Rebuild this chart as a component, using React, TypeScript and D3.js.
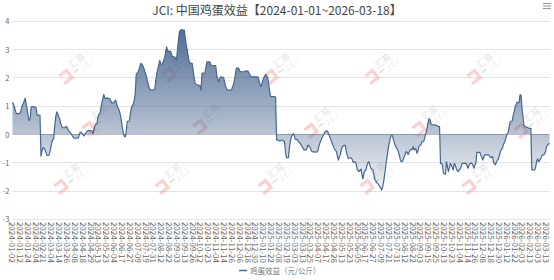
import React from 'react';
import * as d3 from 'd3';

const TITLE = 'JCI: 中国鸡蛋效益【2024-01-01~2026-03-18】';
const SERIES_NAME = '鸡蛋效益（元/公斤）';
const Y_TICKS = [-3, -2, -1, 0, 1, 2, 3, 4];
const LABEL_INTERVAL = 8;

const X_LABELS = [
  '2024-01-02', '2024-01-12', '2024-01-24', '2024-02-04', '2024-02-21', '2024-03-04', '2024-03-14', '2024-03-26',
  '2024-04-08', '2024-04-18', '2024-04-29', '2024-05-13', '2024-05-23', '2024-06-04', '2024-06-17', '2024-06-27',
  '2024-07-09', '2024-07-19', '2024-07-31', '2024-08-12', '2024-08-22', '2024-09-03', '2024-09-13', '2024-09-26',
  '2024-10-12', '2024-10-23', '2024-11-04', '2024-11-14', '2024-11-26', '2024-12-06', '2024-12-18', '2024-12-30',
  '2025-01-10', '2025-01-22', '2025-02-08', '2025-02-19', '2025-03-03', '2025-03-13', '2025-03-25', '2025-04-07',
  '2025-04-17', '2025-04-28', '2025-05-13', '2025-05-23', '2025-06-05', '2025-06-17', '2025-06-27', '2025-07-09',
  '2025-07-21', '2025-07-31', '2025-08-12', '2025-08-22', '2025-09-03', '2025-09-15', '2025-09-25', '2025-10-13',
  '2025-10-23', '2025-11-04', '2025-11-14', '2025-11-26', '2025-12-08', '2025-12-18', '2025-12-30', '2026-01-12',
  '2026-01-22', '2026-02-03', '2026-02-13', '2026-03-03', '2026-03-13',
];

const VALUES_2024A = [
  1.12, 1.05, 0.95, 0.82, 0.72, 0.72, 0.72, 0.72, 0.75, 0.88,
  1.02, 1.08, 1.18, 1.26, 1.05, 0.85, 0.62, 0.47, 0.55, 0.95,
  0.97, 0.97, 0.96, 0.95, 0.93, 0.67, 0.67, 0.67, 0.66, -0.78,
  -0.6, -0.48, -0.5, -0.55, -0.65, -0.75, -0.76, -0.75, -0.65, -0.5,
  -0.3, -0.2, -0.18, 0.3, 0.6, 0.78, 0.72, 0.62, 0.55, 0.38,
  0.28, 0.22, 0.22, 0.22, 0.25, 0.27, 0.2, 0.12, 0.08, 0.05,
  0.0, -0.07, -0.12, -0.15, -0.15, -0.15, -0.15, -0.14, -0.02, 0.07,
  0.05, 0.02, -0.03, -0.07, 0.0, 0.05, 0.1, 0.12, 0.12, 0.12,
  0.12, 0.1, 0.0, 0.18, 0.3, 0.36, 0.38, 0.6, 0.7, 0.72,
  0.9, 1.1, 1.25, 1.4, 1.27, 1.26, 1.27, 1.27, 1.25, 1.25,
  1.18, 1.1, 1.1, 1.1, 1.15, 1.2, 1.08, 0.95, 0.88, 0.8,
  0.65, 0.45, 0.2, 0.02, -0.08, -0.1, 0.15, 0.45, 0.45, 0.45,
  0.7, 0.9, 1.0, 1.05, 1.2, 1.4, 2.1, 2.15, 2.2, 2.3,
];
const VALUES_2024B = [
  2.42, 2.5, 2.45, 2.4, 2.3, 2.18, 2.08, 1.95, 1.8, 1.65,
  1.58, 1.55, 1.55, 1.55, 1.56, 1.6, 1.9, 2.14, 2.3, 2.45,
  2.6, 2.5, 2.45, 2.5, 2.6, 2.7, 2.9, 3.08, 2.93, 2.93,
  2.92, 2.93, 2.82, 2.73, 2.73, 2.73, 2.68, 2.6, 2.96, 3.3,
  3.6, 3.67, 3.68, 3.68, 3.67, 3.67, 3.4, 3.15, 2.96, 2.75,
  2.55, 2.52, 2.5, 2.5, 2.25, 2.0, 1.79, 1.76, 1.74, 1.73,
  1.72, 1.7, 1.55, 2.14, 2.15, 2.15, 2.15, 2.35, 2.55, 2.55,
  2.55, 2.55, 2.43, 2.43, 2.42, 2.42, 2.42, 2.42, 2.08, 1.95,
  1.85, 1.95, 2.02, 2.0, 2.0, 2.0, 1.85, 1.7, 1.6, 1.55,
  1.55, 1.55, 1.55, 1.55, 1.65, 1.73, 1.9, 2.1, 2.32, 2.33,
  2.34, 2.27, 2.2, 2.2, 2.2, 2.2, 2.2, 2.22, 2.23, 2.22,
  2.22, 2.15, 2.08, 2.02, 2.02, 2.02, 2.02, 2.02, 2.02, 2.02,
  2.02, 1.9, 1.78, 1.67, 1.78, 1.9, 2.0, 2.05, 2.1, 2.05,
  2.0, 1.75, 1.5, 1.32, 1.32, 1.32, 1.32, 1.32, 1.3, -0.21,
];
const VALUES_2025A = [
  -0.21, -0.22, -0.25, -0.24, -0.22, -0.22, -0.25, -0.27, -0.6, -0.84,
  -0.84, -0.84, -0.5, -0.27, -0.1, -0.04, 0.02, -0.05, -0.18, -0.19,
  -0.2, -0.25, -0.3, -0.33, -0.38, -0.45, -0.5, -0.56, -0.56, -0.56,
  -0.5, -0.39, -0.42, -0.48, -0.55, -0.62, -0.63, -0.63, -0.63, -0.64,
  -0.64, -0.6, -0.45, -0.33, -0.25, -0.15, -0.09, -0.02, 0.06, 0.1,
  0.1, 0.1, 0.0, -0.09, -0.18, -0.27, -0.35, -0.45, -0.52, -0.58,
  -0.62, -0.8, -0.92, -0.8, -0.72, -0.55, -0.45, -0.42, -0.4, -0.4,
  -0.62, -0.75, -0.86, -0.85, -0.84, -0.84, -0.9, -1.0, -0.99, -0.98,
  -1.05, -1.24, -1.3, -1.33, -1.28, -1.24, -1.45, -1.59, -1.39, -1.3,
  -1.27, -1.12, -1.02, -0.98, -1.1, -1.21, -1.25, -1.27, -1.4, -1.6,
  -1.65, -1.72, -1.74, -1.8, -1.85, -1.9, -1.98, -1.88, -1.7, -1.45,
  -1.2, -0.9, -0.7, -0.45, -0.3, -0.1, -0.06, -0.06, -0.2, -0.33,
  -0.42, -0.48, -0.55, -0.62, -0.75, -0.9, -0.98, -0.98, -0.9, -0.8,
  -0.72, -0.62, -0.65, -0.72, -0.65, -0.56, -0.55, -0.55, -0.45, -0.56,
];
const VALUES_2025B = [
  -0.52, -0.55, -0.68, -0.6, -0.45, -0.4, -0.39, -0.28, -0.27, -0.25,
  -0.12, 0.02, 0.15, 0.35, 0.53, 0.53, 0.38, 0.33, 0.32, 0.32,
  0.32, 0.32, 0.3, 0.28, 0.26, 0.26, -1.04, -1.04, -1.1, -1.39,
  -1.4, -1.42, -0.98, -1.15, -1.33, -1.2, -1.04, -1.1, -1.18, -1.27,
  -1.04, -1.1, -1.21, -1.3, -1.33, -1.26, -1.24, -1.15, -1.04, -1.04,
  -1.04, -1.04, -1.04, -1.12, -1.21, -1.1, -1.04, -1.04, -1.04, -1.1,
  -1.21, -1.1, -1.04, -0.65, -0.65, -0.65, -0.65, -0.75, -0.8, -0.92,
  -0.82, -0.74, -0.74, -0.74, -0.74, -0.74, -0.78, -0.84, -0.82, -0.8,
  -1.0, -1.05, -1.09, -0.98, -0.92, -0.88, -0.75, -0.62, -0.55, -0.5,
  -0.38, -0.3, -0.21, -0.1, 0.02, 0.08, 0.25, 0.44, 0.45, 0.46,
  0.65, 0.79, 0.96, 1.05, 1.12, 1.12, 1.12, 1.38, 1.38, 0.9,
  0.6, 0.3, 0.26, 0.25, 0.24, 0.22, 0.2, 0.2, 0.2, -1.27,
  -1.27, -1.27, -1.27, -1.15, -0.95, -0.88, -0.98, -0.93, -0.88, -0.78,
  -0.74, -0.74, -0.7, -0.62, -0.45, -0.39, -0.35, -0.33,
];
const VALUES = [...VALUES_2024A, ...VALUES_2024B, ...VALUES_2025A, ...VALUES_2025B];

const WATERMARKS = [
  [77, 66], [180, 64], [282, 66], [383, 66], [485, 66],
  [100, 118], [211, 116], [322, 120], [430, 118], [532, 120],
  [72, 176], [173, 176], [276, 176], [378, 176], [480, 176],
];

const FONT = '"Noto Sans CJK SC", "Noto Sans", sans-serif';

function Watermark({ x, y }: { x: number; y: number }) {
  return (
    <g transform={`translate(${x},${y}) rotate(-38)`} opacity={0.5}>
      <path d="M-20,-3 h9 v9 h-10" fill="none" stroke="#f6a3a3" strokeWidth={3.2} />
      <text x={-6} y={-1} fontSize={9} fill="#c9c9c9" fontFamily={FONT}>汇易</text>
      <rect x={-7} y={2.5} width={6} height={1.6} fill="#a8d8a8" />
      <text x={1} y={7.5} fontSize={7} letterSpacing={2.2} fill="#cfcfcf" fontFamily={FONT}>JCI</text>
    </g>
  );
}

export default function App() {
  const W = 554;
  const H = 280;
  const left = 12.5;
  const right = 549.5;
  const top = 20.8;
  const bottom = 218.9;

  const x = d3.scaleLinear().domain([0, VALUES.length - 1]).range([left, right]);
  const y = d3.scaleLinear().domain([-3, 4]).range([bottom, top]);

  const line = d3.line<number>().x((_, i) => x(i)).y((d) => y(d));
  const area = d3.area<number>().x((_, i) => x(i)).y0(y(0)).y1((d) => y(d));

  const maxV = d3.max(VALUES) as number;
  const minV = d3.min(VALUES) as number;

  const lineColor = '#46668f';

  return (
    <svg width={W} height={H} style={{ position: 'absolute', left: 0, top: 0, background: '#fff' }}>
      <defs>
        <linearGradient id="areaGrad" gradientUnits="userSpaceOnUse" x1={0} x2={0} y1={y(maxV)} y2={y(Math.min(minV, 0))}>
          <stop offset="0" stopColor="#43628c" stopOpacity={0.92} />
          <stop offset="1" stopColor="#43628c" stopOpacity={0.08} />
        </linearGradient>
      </defs>

      <text x={W / 2} y={14.5} textAnchor="middle" fontSize={12} fill="#444" fontFamily={FONT}>{TITLE}</text>

      <g stroke="#9a9a9a" strokeWidth={1.1}>
        <line x1={543} x2={551} y1={3.5} y2={3.5} />
        <line x1={543} x2={551} y1={6} y2={6} />
        <line x1={543} x2={551} y1={8.5} y2={8.5} />
      </g>

      {Y_TICKS.map((t) => (
        <line key={`g${t}`} x1={left} x2={right} y1={Math.round(y(t)) + 0.5} y2={Math.round(y(t)) + 0.5}
          stroke={t === 0 ? '#bcbcbc' : '#e2e2e2'} strokeWidth={1} />
      ))}

      {WATERMARKS.map(([wx, wy], i) => <Watermark key={i} x={wx} y={wy} />)}

      <path d={area(VALUES) || ''} fill="url(#areaGrad)" />
      <path d={line(VALUES) || ''} fill="none" stroke={lineColor} strokeWidth={1.2} strokeLinejoin="round" />

      {Y_TICKS.map((t) => (
        <text key={`yl${t}`} x={9.5} y={y(t)} textAnchor="end" dominantBaseline="central" fontSize={7.5} fill="#666" fontFamily={FONT}>{t}</text>
      ))}

      {X_LABELS.map((lab, k) => {
        const px = x(k * LABEL_INTERVAL);
        return (
          <text key={lab} transform={`translate(${px},${bottom + 3}) rotate(90)`} textAnchor="start" dominantBaseline="central"
            fontSize={8} fill="#666" fontFamily={FONT}>{lab}</text>
        );
      })}

      <g>
        <line x1={239} x2={247} y1={270.5} y2={270.5} stroke={lineColor} strokeWidth={1.5} />
        <text x={250} y={270.5} dominantBaseline="central" fontSize={7.5} fill="#777" fontFamily={FONT}>{SERIES_NAME}</text>
      </g>
    </svg>
  );
}
